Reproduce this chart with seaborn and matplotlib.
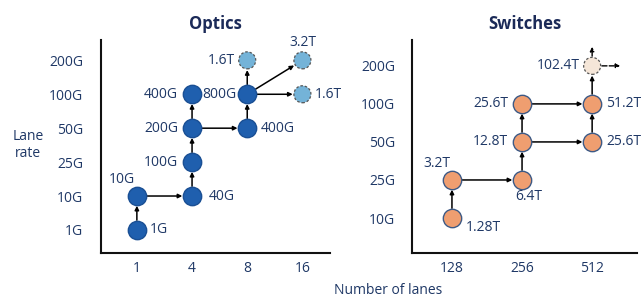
import matplotlib.pyplot as plt
import seaborn as sns
import pandas as pd

# Optics panel data
optics_lanes = ['1', '4', '8', '16']
optics_rates = ['1G', '10G', '25G', '50G', '100G', '200G']
optics_x = ['1', '1', '4', '4', '4', '4', '8', '8', '8', '16', '16']
optics_y = ['1G', '10G', '10G', '25G', '50G', '100G', '50G', '100G', '200G', '200G', '100G']
optics_labels = ['1G', '10G', '40G', '100G', '200G', '400G', '400G', '800G', '1.6T', '3.2T', '1.6T']
optics_future = [False, False, False, False, False, False, False, False, True, True, True]
optics_edges = [(0, 1), (1, 2), (2, 3), (3, 4), (4, 5), (4, 6), (6, 7), (7, 8), (7, 9), (7, 10)]

# Switches panel data
switch_lanes = ['128', '256', '512']
switch_rates = ['10G', '25G', '50G', '100G', '200G']
switch_x = ['128', '128', '256', '256', '256', '512', '512', '512']
switch_y = ['10G', '25G', '25G', '50G', '100G', '50G', '100G', '200G']
switch_labels = ['1.28T', '3.2T', '6.4T', '12.8T', '25.6T', '25.6T', '51.2T', '102.4T']
switch_future = [False, False, False, False, False, False, False, True]
switch_edges = [(0, 1), (1, 2), (2, 3), (3, 4), (3, 5), (4, 6), (5, 6), (6, 7)]

# label placement (offset in points, alignment)
optics_place = [((9, 0), 'left'), ((-11, 12), 'center'), ((12, 0), 'left'), ((-10, 0), 'right'),
                ((-10, 0), 'right'), ((-10, 0), 'right'), ((10, 0), 'left'), ((-8, 0), 'right'),
                ((-9, 0), 'right'), ((0, 13), 'center'), ((9, 0), 'left')]
switch_place = [((10, -7), 'left'), ((-11, 12), 'center'), ((5, -12), 'center'), ((-10, 0), 'right'),
                ((-10, 0), 'right'), ((10, 0), 'left'), ((10, 0), 'left'), ((-9, 0), 'right')]

NAVY = '#1f3866'
TITLE = '#1b2a58'

sns.set_style("white")
plt.rcParams['font.family'] = ['Open Sans', 'DejaVu Sans']

fig = plt.figure(figsize=(6.43, 2.99), dpi=100)
ax1 = fig.add_axes([101 / 643, 46 / 299, 229 / 643, 213 / 299])
ax2 = fig.add_axes([412 / 643, 46 / 299, 225 / 643, 213 / 299])


def draw_panel(ax, lanes, rates, xs, ys, labels, future, edges, place, colors, title, xlim, ylim, ypad):
    df = pd.DataFrame({
        'x': [lanes.index(v) for v in xs],
        'y': [rates.index(v) for v in ys],
        'label': labels,
        'future': future,
    })
    # arrows between nodes
    for a, b in edges:
        ax.annotate('', xy=(df.x[b], df.y[b]), xytext=(df.x[a], df.y[a]),
                    arrowprops=dict(arrowstyle='-|>', color='black', lw=1.1,
                                    mutation_scale=6, shrinkA=7, shrinkB=7), zorder=1)
    now = df[~df.future]
    fut = df[df.future]
    sns.scatterplot(data=now, x='x', y='y', ax=ax, s=175, color=colors[0],
                    edgecolor=colors[1], linewidth=1.0, zorder=3)
    sc = sns.scatterplot(data=fut, x='x', y='y', ax=ax, s=150, color=colors[2],
                         edgecolor='#555555', linewidth=0.9, zorder=3)
    sc.collections[-1].set_linestyle((0, (2, 1.5)))
    for i, row in df.iterrows():
        (dx, dy), ha = place[i]
        ax.annotate(row.label, (row.x, row.y), xytext=(dx, dy), textcoords='offset points',
                    ha=ha, va='center', fontsize=10, color=NAVY)
    ax.set_xlim(*xlim)
    ax.set_ylim(*ylim)
    ax.set_xticks(range(len(lanes)))
    ax.set_xticklabels(lanes)
    ax.set_yticks(range(len(rates)))
    ax.set_yticklabels(rates)
    ax.tick_params(axis='x', length=0, pad=6, labelsize=10, labelcolor=NAVY)
    ax.tick_params(axis='y', length=0, pad=ypad, labelsize=10, labelcolor=NAVY)
    ax.set_xlabel('')
    ax.set_ylabel('')
    for s in ['top', 'right']:
        ax.spines[s].set_visible(False)
    for s in ['left', 'bottom']:
        ax.spines[s].set_color('#111111')
        ax.spines[s].set_linewidth(1.5)
    ax.set_title(title, fontsize=12, fontweight='bold', color=TITLE, pad=8)
    return df


draw_panel(ax1, optics_lanes, optics_rates, optics_x, optics_y, optics_labels, optics_future,
           optics_edges, optics_place, ['#1f5fae', '#1a4f94', '#74b3d8'], 'Optics',
           (-0.65, 3.5), (-0.68, 5.6), 13)
sdf = draw_panel(ax2, switch_lanes, switch_rates, switch_x, switch_y, switch_labels, switch_future,
                 switch_edges, switch_place, ['#ef9e70', '#3d5a86', '#f5e6d8'], 'Switches',
                 (-0.57, 2.64), (-0.92, 4.68), 12)

# dashed outgoing arrows from the future switch node
last = sdf[sdf.future].iloc[0]
for dx, dy in [(0, 0.5), (0.4, 0)]:
    ax2.annotate('', xy=(last.x + dx, last.y + dy), xytext=(last.x, last.y),
                 arrowprops=dict(arrowstyle='-|>', color='black', lw=1.0, ls='--',
                                 mutation_scale=6, shrinkA=7, shrinkB=0), zorder=1)

fig.text(28 / 643, 1 - 145 / 299, 'Lane\nrate', ha='center', va='center',
         fontsize=10, color=NAVY, linespacing=1.1)
fig.text(388 / 643, 1 - 290 / 299, 'Number of lanes', ha='center', va='center',
         fontsize=10, color=NAVY)

fig.savefig('out.png', dpi=100)
